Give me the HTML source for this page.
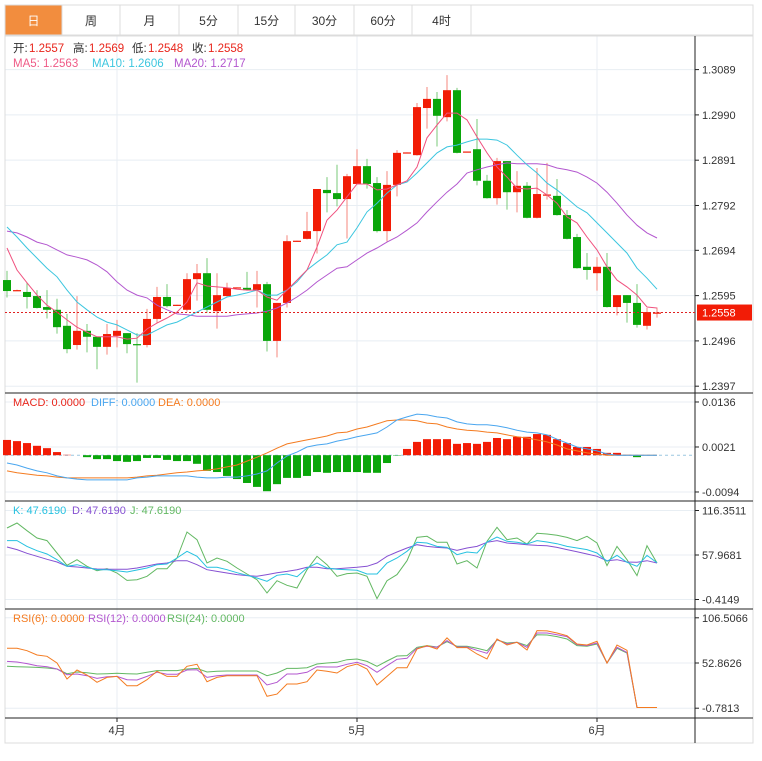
<!DOCTYPE html>
<html><head><meta charset="utf-8">
<style>
body{margin:0;background:#fff;font-family:"Liberation Sans","Noto Sans CJK SC",sans-serif;}
svg text{font-family:"Liberation Sans","Noto Sans CJK SC",sans-serif;}
</style></head>
<body>
<svg id="chart" width="762" height="756" viewBox="0 0 762 756" xmlns="http://www.w3.org/2000/svg">
<g id="tabs"></g>
<g id="grid"></g>
<g id="frame"></g>
<g id="marks"></g>
<g id="labels"></g>
</svg>
<script>
const tabNames=["日","周","月","5分","15分","30分","60分","4时"];
const monthLabels=["4月","5月","6月"];
const monthIdx=[11,35,59];
const priceTicks=["1.3089","1.2990","1.2891","1.2792","1.2694","1.2595","1.2496","1.2397"];
const openP=[1.2629,1.2607,1.2603,1.2594,1.2570,1.2564,1.2529,1.2487,1.2518,1.2505,1.2483,1.2507,1.2513,1.2489,1.2487,1.2544,1.2592,1.2574,1.2564,1.2631,1.2644,1.2561,1.2594,1.2612,1.2612,1.2607,1.2620,1.2496,1.2579,1.2714,1.2719,1.2736,1.2826,1.2819,1.2806,1.2839,1.2878,1.2841,1.2736,1.2837,1.2907,1.2902,1.3005,1.3025,1.2985,1.3044,1.2909,1.2915,1.2846,1.2808,1.2889,1.2821,1.2835,1.2765,1.2815,1.2813,1.2771,1.2723,1.2658,1.2644,1.2658,1.2570,1.2596,1.2579,1.2529,1.2557];
const closeP=[1.2605,1.2607,1.2592,1.2568,1.2564,1.2526,1.2478,1.2518,1.2505,1.2483,1.2511,1.2518,1.2489,1.2487,1.2544,1.2592,1.2572,1.2575,1.2631,1.2644,1.2564,1.2596,1.2612,1.2613,1.2607,1.2620,1.2496,1.2579,1.2714,1.2715,1.2736,1.2828,1.2819,1.2806,1.2856,1.2878,1.2839,1.2736,1.2837,1.2907,1.2908,1.3007,1.3025,1.2988,1.3044,1.2907,1.2910,1.2846,1.2808,1.2889,1.2821,1.2835,1.2765,1.2817,1.2816,1.2771,1.2719,1.2655,1.2651,1.2658,1.2570,1.2596,1.2579,1.2531,1.2559,1.2558];
const highP=[1.2649,1.2608,1.2623,1.2607,1.2607,1.2588,1.2555,1.2594,1.2533,1.2505,1.2533,1.2542,1.2513,1.2513,1.2566,1.2614,1.2620,1.2575,1.2644,1.2664,1.2677,1.2644,1.2623,1.2613,1.2647,1.2649,1.2625,1.2579,1.2727,1.2715,1.2778,1.2828,1.2854,1.2881,1.2861,1.2915,1.2894,1.2854,1.2867,1.2913,1.2908,1.3016,1.3051,1.3040,1.3077,1.3049,1.2910,1.2981,1.2859,1.2896,1.2889,1.2867,1.2843,1.2874,1.2885,1.2850,1.2782,1.2730,1.2688,1.2679,1.2688,1.2596,1.2596,1.2620,1.2568,1.2569];
const lowP=[1.2592,1.2607,1.2568,1.2568,1.2546,1.2513,1.2470,1.2478,1.2472,1.2435,1.2467,1.2483,1.2470,1.2406,1.2483,1.2535,1.2570,1.2574,1.2561,1.2585,1.2559,1.2524,1.2594,1.2612,1.2607,1.2570,1.2474,1.2461,1.2570,1.2714,1.2719,1.2688,1.2778,1.2791,1.2721,1.2839,1.2830,1.2734,1.2714,1.2813,1.2907,1.2902,1.2961,1.2922,1.2977,1.2907,1.2909,1.2837,1.2808,1.2795,1.2784,1.2778,1.2765,1.2765,1.2806,1.2771,1.2719,1.2655,1.2631,1.2607,1.2570,1.2553,1.2537,1.2526,1.2522,1.2548];
const ma5=[1.2699,1.2651,1.2623,1.2596,1.2574,1.2559,1.2542,1.2526,1.2515,1.2505,1.2505,1.2505,1.2500,1.2502,1.2522,1.2535,1.2546,1.2559,1.2581,1.2623,1.2616,1.2614,1.2612,1.2609,1.2607,1.2607,1.2592,1.2585,1.2607,1.2629,1.2651,1.2701,1.2760,1.2782,1.2811,1.2839,1.2839,1.2826,1.2828,1.2837,1.2846,1.2876,1.2940,1.2968,1.2994,1.2994,1.2979,1.2942,1.2907,1.2876,1.2854,1.2830,1.2828,1.2830,1.2815,1.2797,1.2767,1.2754,1.2723,1.2695,1.2658,1.2629,1.2614,1.2596,1.2570,1.2568];
const ma10=[1.2745,1.2723,1.2699,1.2677,1.2655,1.2636,1.2607,1.2581,1.2564,1.2548,1.2537,1.2531,1.2520,1.2509,1.2509,1.2520,1.2531,1.2537,1.2548,1.2559,1.2570,1.2581,1.2592,1.2596,1.2601,1.2607,1.2596,1.2596,1.2607,1.2625,1.2651,1.2668,1.2684,1.2706,1.2712,1.2743,1.2778,1.2797,1.2819,1.2837,1.2843,1.2863,1.2885,1.2907,1.2920,1.2924,1.2931,1.2937,1.2937,1.2935,1.2924,1.2902,1.2881,1.2863,1.2841,1.2826,1.2808,1.2789,1.2776,1.2754,1.2732,1.2710,1.2688,1.2655,1.2633,1.2609];
const ma20=[1.2736,1.2732,1.2723,1.2712,1.2706,1.2695,1.2684,1.2679,1.2673,1.2662,1.2647,1.2625,1.2607,1.2596,1.2590,1.2574,1.2564,1.2555,1.2553,1.2550,1.2550,1.2550,1.2550,1.2553,1.2555,1.2557,1.2561,1.2568,1.2579,1.2592,1.2607,1.2625,1.2640,1.2655,1.2658,1.2673,1.2688,1.2699,1.2712,1.2723,1.2738,1.2754,1.2778,1.2800,1.2821,1.2839,1.2863,1.2870,1.2876,1.2881,1.2885,1.2883,1.2883,1.2883,1.2881,1.2874,1.2870,1.2865,1.2854,1.2841,1.2821,1.2797,1.2771,1.2749,1.2732,1.2721];
const macdHist=[0.0039,0.0036,0.0031,0.0024,0.0018,0.0008,0.0001,0,-0.0005,-0.0010,-0.0010,-0.0015,-0.0017,-0.0015,-0.0007,-0.0007,-0.0012,-0.0015,-0.0015,-0.0022,-0.0040,-0.0043,-0.0053,-0.0061,-0.0071,-0.0081,-0.0092,-0.0074,-0.0058,-0.0058,-0.0053,-0.0043,-0.0045,-0.0043,-0.0043,-0.0043,-0.0045,-0.0045,-0.0020,-0.0001,0.0016,0.0034,0.0041,0.0041,0.0041,0.0029,0.0031,0.0029,0.0034,0.0044,0.0041,0.0047,0.0047,0.0054,0.0052,0.0041,0.0031,0.0021,0.0021,0.0016,0.0006,0.0006,0.0001,-0.0005,0,0];
const diff=[-0.0020,-0.0025,-0.0033,-0.0040,-0.0045,-0.0053,-0.0058,-0.0061,-0.0063,-0.0063,-0.0063,-0.0063,-0.0063,-0.0058,-0.0056,-0.0053,-0.0053,-0.0053,-0.0053,-0.0056,-0.0058,-0.0058,-0.0056,-0.0056,-0.0053,-0.0048,-0.0040,-0.0020,-0.0002,0.0008,0.0021,0.0026,0.0029,0.0036,0.0041,0.0047,0.0052,0.0057,0.0072,0.0090,0.0098,0.0105,0.0103,0.0098,0.0095,0.0085,0.0080,0.0078,0.0078,0.0075,0.0070,0.0064,0.0059,0.0057,0.0052,0.0041,0.0031,0.0021,0.0016,0.0011,0.0003,0,0,0,0,0];
const dea=[-0.0040,-0.0045,-0.0048,-0.0051,-0.0053,-0.0056,-0.0058,-0.0058,-0.0058,-0.0058,-0.0058,-0.0058,-0.0058,-0.0056,-0.0053,-0.0051,-0.0048,-0.0045,-0.0043,-0.0040,-0.0038,-0.0035,-0.0030,-0.0025,-0.0015,-0.0005,0.0006,0.0018,0.0029,0.0034,0.0039,0.0044,0.0049,0.0057,0.0059,0.0067,0.0072,0.0080,0.0088,0.0090,0.0090,0.0088,0.0082,0.0080,0.0072,0.0067,0.0064,0.0062,0.0059,0.0057,0.0052,0.0047,0.0044,0.0039,0.0034,0.0026,0.0016,0.0011,0.0006,0.0003,0,0,0,0,0,0];
const kVals=[76.8,76.8,69.3,63.6,59.3,51.8,43.1,45.3,41.8,38.7,38.7,37.4,35.7,38.3,40.9,45.3,46.2,54.0,62.8,56.2,41.8,41.8,38.7,34.8,31.3,27.8,23.4,31.3,33.0,29.5,40.9,47.5,40.9,39.2,38.7,37.9,33.0,33.0,47.5,54.0,62.8,74.6,73.7,69.3,68.0,58.4,61.9,60.6,75.0,81.6,75.9,74.6,72.4,76.8,75.0,72.8,69.3,67.2,65.0,60.6,49.7,57.5,48.4,43.1,57.5,47.9];
const dVals=[68.5,65.0,60.2,56.2,52.3,48.8,43.1,42.2,40.9,39.6,39.2,39.2,39.2,40.9,43.5,46.2,47.5,50.5,50.5,45.3,38.7,36.5,34.4,32.2,30.9,30.0,32.2,34.8,36.5,38.7,41.8,41.8,40.0,40.0,40.9,41.8,43.1,47.5,56.2,61.9,67.2,71.5,69.3,68.0,67.2,64.1,67.2,69.3,74.6,76.8,73.7,72.8,71.5,70.6,70.2,68.0,65.0,62.3,59.3,56.2,50.5,51.8,48.8,48.4,50.5,47.5];
const jVals=[93.4,99.9,89.9,80.3,76.8,60.6,44.4,51.8,43.1,37.4,40.0,34.4,24.7,25.6,30.0,40.0,40.0,54.0,88.1,78.1,47.5,54.0,49.7,40.9,33.0,25.6,8.1,24.3,18.2,14.7,38.7,56.2,45.3,30.0,33.5,34.4,30.0,0.7,24.3,32.2,50.5,81.1,82.5,74.6,74.6,46.2,50.5,40.9,75.9,94.3,78.1,80.3,72.4,86.4,85.5,83.8,81.1,76.8,82.5,73.7,44.0,69.3,51.8,30.9,70.2,47.5];
const rsi6=[70.3,70.3,67.5,62.4,60.8,52.9,33.9,44.6,38.6,29.9,35.8,37.0,25.9,25.9,33.1,43.0,37.0,37.0,48.9,51.3,30.7,35.8,37.8,37.8,37.8,37.8,13.3,16.0,27.9,27.9,30.7,44.6,43.0,41.0,48.5,51.7,45.7,26.7,37.0,47.3,47.3,69.5,73.5,69.5,82.6,71.1,71.1,63.6,57.6,81.4,74.2,77.4,68.3,91.3,90.9,88.5,85.3,75.4,74.2,78.6,52.9,74.2,67.9,0,0,0];
const rsi12=[54.8,54.1,52.1,49.7,48.5,45.7,39.0,39.8,37.8,34.6,36.6,37.0,33.1,32.7,37.0,41.8,39.4,39.4,44.6,44.9,35.8,37.8,38.6,38.6,38.6,38.6,26.7,29.9,39.8,39.8,41.8,48.5,48.1,48.1,51.3,53.7,49.7,41.8,49.7,57.2,58.4,70.3,72.7,71.5,79.4,71.9,71.9,67.9,64.4,80.6,75.4,77.4,71.5,88.5,88.5,86.5,84.2,74.6,73.5,76.6,52.9,71.5,65.5,0,0,0];
const rsi24=[48.9,48.5,48.1,47.7,46.9,45.7,40.2,42.2,41.4,39.8,40.2,40.6,40.2,39.8,41.8,43.8,43.8,43.8,45.7,46.5,42.2,43.0,43.4,43.4,43.4,43.4,37.8,41.0,46.5,46.5,47.3,51.7,52.9,53.7,56.8,57.6,54.8,48.9,55.2,61.2,61.6,71.5,73.5,71.9,78.2,72.7,72.7,70.3,67.5,80.2,76.6,77.4,73.5,86.5,86.1,84.2,81.4,73.5,72.7,75.4,52.9,70.3,64.7,0,0,0];
const macdTicks=["0.0136","0.0021","-0.0094"];
const kdjTicks=["116.3511","57.9681","-0.4149"];
const rsiTicks=["106.5066","52.8626","-0.7813"];

const NS="http://www.w3.org/2000/svg";
function mk(parent,tag,attrs,text){const e=document.createElementNS(NS,tag);for(const k in attrs)e.setAttribute(k,attrs[k]);if(text!==undefined)e.textContent=text;document.getElementById(parent).appendChild(e);return e;}
const xOf=i=>7+10*i;
const yP=p=>69.6+(1.3089-p)*4575;
const yM=v=>455.2-v*3913;
const yK=v=>555-(v-57.9681)*0.7622;
const yR=v=>663-(v-52.8626)*0.8426;
const RED="#f21c06",GREEN="#0aa60a";

// tabs
mk("tabs","rect",{x:5,y:5,width:748,height:30,fill:"#fff",stroke:"#dcdcdc"});
const tabX=[5,62,120,179,238,295,354,412,471];
tabNames.forEach((t,i)=>{
  const r=mk("tabs","rect",{x:tabX[i],y:5,width:tabX[i+1]-tabX[i],height:30,fill:i===0?"#f28d3e":"#fff",stroke:"#dcdcdc"});
  
  
  const tx=mk("tabs","text",{x:(tabX[i]+tabX[i+1])/2,y:25,"font-size":12,"text-anchor":"middle",fill:i===0?"#fff":"#333"},t);
  
  
});

// frame
mk("frame","rect",{x:5,y:36,width:748,height:707,fill:"none",stroke:"#dcdcdc"});
mk("frame","line",{x1:695,y1:36,x2:695,y2:743,stroke:"#222"});
[393,501,609,718].forEach(y=>mk("frame","line",{x1:5,y1:y,x2:753,y2:y,stroke:"#222"}));

// grid
priceTicks.forEach(t=>{const y=yP(+t);mk("grid","line",{x1:5,y1:y,x2:695,y2:y,stroke:"#e8eef3"});
  const l=mk("labels","text",{x:702,y:y+4,"font-size":11,fill:"#333"},t);
  mk("labels","line",{x1:695,y1:y,x2:699,y2:y,stroke:"#222"});});
monthIdx.forEach((ix,k)=>{const x=xOf(ix);mk("grid","line",{x1:x,y1:36,x2:x,y2:718,stroke:"#e8eef3"});
  mk("labels","line",{x1:x,y1:718,x2:x,y2:722,stroke:"#222"});
  const l=mk("labels","text",{x:x,y:734,"font-size":11,"text-anchor":"middle",fill:"#333"},monthLabels[k]);});
function sideTicks(ticks,fn){ticks.forEach(t=>{const y=fn(+t);mk("grid","line",{x1:5,y1:y,x2:695,y2:y,stroke:"#e8eef3"});
  mk("labels","line",{x1:695,y1:y,x2:699,y2:y,stroke:"#222"});
  const l=mk("labels","text",{x:702,y:y+4,"font-size":11,fill:"#333"},t);});}
sideTicks(macdTicks,yM);sideTicks(kdjTicks,yK);sideTicks(rsiTicks,yR);

// candles
openP.forEach((o,i)=>{
  const c=closeP[i],up=c>=o,x=xOf(i);
  const w=mk("marks","line",{x1:x,y1:yP(highP[i]),x2:x,y2:yP(lowP[i])+0.5,stroke:up?"#f4877d":"#79c979","stroke-width":1});
  
  
  const top=Math.min(yP(o),yP(c)),h=Math.max(1.2,Math.abs(yP(o)-yP(c)));
  const b=mk("marks","rect",{x:x-4,y:top,width:8,height:h,fill:up?RED:GREEN});
  
  
});
function line(arr,fn,color,name){
  const pts=arr.map((v,i)=>xOf(i)+","+fn(v).toFixed(1)).join(" ");
  const p=mk("marks","polyline",{points:pts,fill:"none",stroke:color,"stroke-width":1});
  
  
}
line(ma20,yP,"#b357cf","ma20-line");
line(ma10,yP,"#3cc6df","ma10-line");
line(ma5,yP,"#f0527f","ma5-line");
// current price
const cy=yP(closeP[closeP.length-1]);
mk("marks","line",{x1:5,y1:cy,x2:695,y2:cy,stroke:"#e02020","stroke-dasharray":"2,2"});
const badge=mk("labels","rect",{x:697,y:cy-8,width:55,height:16,fill:RED});


mk("labels","text",{x:702,y:cy+4,"font-size":11,fill:"#fff"},closeP[closeP.length-1].toFixed(4));

// MACD
mk("marks","line",{x1:5,y1:yM(0),x2:695,y2:yM(0),stroke:"#9cc7e0","stroke-dasharray":"3,3"});
macdHist.forEach((v,i)=>{
  if(Math.abs(v)<0.00005)return;
  const y0=yM(0),y1=yM(v);
  const r=mk("marks","rect",{x:xOf(i)-4,y:Math.min(y0,y1),width:8,height:Math.abs(y1-y0),fill:v>0?RED:GREEN});
  
  
});
line(dea,yM,"#f47b20","dea-line");
line(diff,yM,"#4aa6ef","diff-line");
// KDJ
line(jVals,yK,"#62b862","kdj-j-line");
line(dVals,yK,"#8650d2","kdj-d-line");
line(kVals,yK,"#25c1e0","kdj-k-line");
// RSI
line(rsi24,yR,"#62b862","rsi24-line");
line(rsi12,yR,"#b357cf","rsi12-line");
line(rsi6,yR,"#f47b20","rsi6-line");

// OHLC legend
[["开:",13,"1.2557",29],["高:",73,"1.2569",89],["低:",132,"1.2548",148],["收:",192,"1.2558",208]].forEach(([a,xa,b,xb])=>{
  mk("labels","text",{x:xa,y:52,"font-size":11.5,fill:"#333"},a);
  const e=mk("labels","text",{x:xb,y:52,"font-size":11.5,fill:"#e8251b"},b);
  
  
});
[["MA5: 1.2563","#ef5a86",13],["MA10: 1.2606","#3cc6df",92],["MA20: 1.2717","#b357cf",174]].forEach(([t,c,x])=>{const e=mk("labels","text",{x:x,y:67,"font-size":11.5,fill:c},t);});
[["MACD: 0.0000","#e8251b",13],["DIFF: 0.0000","#4aa6ef",91],["DEA: 0.0000","#f47b20",158]].forEach(([t,c,x])=>{const e=mk("labels","text",{x:x,y:406,"font-size":11,fill:c},t);});
[["K: 47.6190","#25c1e0",13],["D: 47.6190","#8650d2",72],["J: 47.6190","#62b862",130]].forEach(([t,c,x])=>{const e=mk("labels","text",{x:x,y:514,"font-size":11,fill:c},t);});
[["RSI(6): 0.0000","#f47b20",13],["RSI(12): 0.0000","#b357cf",88],["RSI(24): 0.0000","#62b862",167]].forEach(([t,c,x])=>{const e=mk("labels","text",{x:x,y:622,"font-size":11,fill:c},t);});
</script>
</body></html>
